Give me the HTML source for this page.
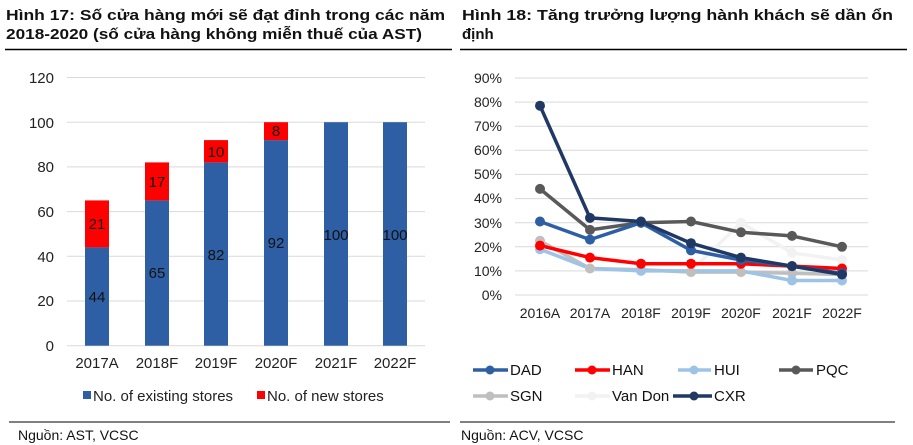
<!DOCTYPE html>
<html><head><meta charset="utf-8"><style>html,body{margin:0;padding:0;background:#fff}svg{display:block}text{font-family:"Liberation Sans",Arial,sans-serif}</style></head>
<body>
<svg width="913" height="445" viewBox="0 0 913 445" xmlns="http://www.w3.org/2000/svg">
<!-- Titles -->
<g font-weight="bold" font-size="15" fill="#111">
<text x="6" y="20" textLength="439" lengthAdjust="spacingAndGlyphs">Hình 17: Số cửa hàng mới sẽ đạt đỉnh trong các năm</text>
<text x="6" y="39" textLength="416" lengthAdjust="spacingAndGlyphs">2018-2020 (số cửa hàng không miễn thuế của AST)</text>
<text x="462" y="20" textLength="431" lengthAdjust="spacingAndGlyphs">Hình 18: Tăng trưởng lượng hành khách sẽ dần ổn</text>
<text x="462" y="39">định</text>
</g>
<line x1="5" y1="49.5" x2="452" y2="49.5" stroke="#000" stroke-width="1.5"/>
<line x1="460" y1="49.5" x2="907" y2="49.5" stroke="#000" stroke-width="1.5"/>

<!-- Left chart -->
<g stroke="#d9d9d9" stroke-width="1">
<line x1="67" x2="425" y1="77.5" y2="77.5"/><line x1="67" x2="425" y1="122.2" y2="122.2"/>
<line x1="67" x2="425" y1="166.9" y2="166.9"/><line x1="67" x2="425" y1="211.6" y2="211.6"/>
<line x1="67" x2="425" y1="256.3" y2="256.3"/><line x1="67" x2="425" y1="301" y2="301"/>
<line x1="67" x2="425" y1="345.7" y2="345.7"/>
</g>
<g font-size="15" fill="#222" text-anchor="end">
<text x="54" y="83">120</text><text x="54" y="128">100</text><text x="54" y="172">80</text>
<text x="54" y="217">60</text><text x="54" y="262">40</text><text x="54" y="306">20</text><text x="54" y="351">0</text>
</g>
<g>
<rect x="85" y="247.4" width="24" height="98.3" fill="#2e5fa4"/><rect x="85" y="200.4" width="24" height="47" fill="#ff0000"/>
<rect x="145" y="200.4" width="24" height="145.3" fill="#2e5fa4"/><rect x="145" y="162.4" width="24" height="38" fill="#ff0000"/>
<rect x="204" y="162.4" width="24" height="183.3" fill="#2e5fa4"/><rect x="204" y="140.1" width="24" height="22.3" fill="#ff0000"/>
<rect x="264" y="140.1" width="24" height="205.6" fill="#2e5fa4"/><rect x="264" y="122.2" width="24" height="17.9" fill="#ff0000"/>
<rect x="324" y="122.2" width="24" height="223.5" fill="#2e5fa4"/>
<rect x="383" y="122.2" width="24" height="223.5" fill="#2e5fa4"/>
</g>
<g font-size="15" fill="#111" text-anchor="middle">
<text x="97" y="302">44</text><text x="97" y="229">21</text>
<text x="157" y="278">65</text><text x="157" y="187">17</text>
<text x="216" y="260">82</text><text x="216" y="157">10</text>
<text x="276" y="248">92</text><text x="276" y="136">8</text>
<text x="336" y="240">100</text><text x="395" y="240">100</text>
</g>
<g font-size="15" fill="#222" text-anchor="middle">
<text x="97" y="368">2017A</text><text x="157" y="368">2018F</text><text x="216" y="368">2019F</text>
<text x="276" y="368">2020F</text><text x="336" y="368">2021F</text><text x="395" y="368">2022F</text>
</g>
<rect x="83" y="391" width="8" height="8" fill="#2e5fa4"/>
<text x="93" y="401" font-size="15" fill="#222">No. of existing stores</text>
<rect x="257" y="391" width="8" height="8" fill="#ff0000"/>
<text x="267" y="401" font-size="15" fill="#222">No. of new stores</text>
<line x1="9" y1="422" x2="450" y2="422" stroke="#000" stroke-width="1"/>
<text x="18" y="440" font-size="14" fill="#111">Nguồn: AST, VCSC</text>

<!-- Right chart -->
<g stroke="#d9d9d9" stroke-width="1">
<line x1="515" x2="868" y1="78" y2="78"/><line x1="515" x2="868" y1="102.1" y2="102.1"/>
<line x1="515" x2="868" y1="126.2" y2="126.2"/><line x1="515" x2="868" y1="150.3" y2="150.3"/>
<line x1="515" x2="868" y1="174.4" y2="174.4"/><line x1="515" x2="868" y1="198.6" y2="198.6"/>
<line x1="515" x2="868" y1="222.7" y2="222.7"/><line x1="515" x2="868" y1="246.8" y2="246.8"/>
<line x1="515" x2="868" y1="270.9" y2="270.9"/><line x1="515" x2="868" y1="295" y2="295"/>
</g>
<g font-size="14" fill="#222" text-anchor="end">
<text x="502" y="83">90%</text><text x="502" y="107">80%</text><text x="502" y="131">70%</text>
<text x="502" y="155">60%</text><text x="502" y="179">50%</text><text x="502" y="203">40%</text>
<text x="502" y="228">30%</text><text x="502" y="252">20%</text><text x="502" y="276">10%</text><text x="502" y="300">0%</text>
</g>
<g font-size="14" fill="#222" text-anchor="middle">
<text x="540" y="318">2016A</text><text x="590" y="318">2017A</text><text x="641" y="318">2018F</text>
<text x="691" y="318">2019F</text><text x="741" y="318">2020F</text><text x="792" y="318">2021F</text><text x="842" y="318">2022F</text>
</g>
<g fill="none" stroke-width="3.5" stroke-linejoin="round">
<polyline stroke="#f2f2f2" points="540,242 590,268.5 641,269.7 691,270.9 741,222.7 792,252.8 842,260"/>
<polyline stroke="#bfbfbf" points="540,240.8 590,268.5 641,269.7 691,272.1 741,272.1 792,273.3 842,274.5"/>
<polyline stroke="#9dc3e6" points="540,249.2 590,268.5 641,270.9 691,270.9 741,270.9 792,280.5 842,280.5"/>
<polyline stroke="#ff0000" points="540,245.6 590,257.6 641,263.7 691,263.7 741,263.7 792,266.1 842,268.5"/>
<polyline stroke="#595959" points="540,188.9 590,229.9 641,222.7 691,221.5 741,232.3 792,235.9 842,246.8"/>
<polyline stroke="#2e5fa4" points="540,221.5 590,239.6 641,222.7 691,250.4 741,260 792,266.1 842,273.3"/>
<polyline stroke="#1f3864" points="540,105.7 590,217.9 641,221.5 691,243.2 741,257.6 792,266.1 842,274.5"/>
</g>
<g stroke="none">
<g fill="#f2f2f2"><circle cx="540" cy="242" r="5"/><circle cx="590" cy="268.5" r="5"/><circle cx="741" cy="222.7" r="5"/><circle cx="792" cy="252.8" r="5"/><circle cx="842" cy="260" r="5"/></g>
<g fill="#bfbfbf"><circle cx="540" cy="240.8" r="5"/><circle cx="590" cy="268.5" r="5"/><circle cx="641" cy="269.7" r="5"/><circle cx="691" cy="272.1" r="5"/><circle cx="741" cy="272.1" r="5"/><circle cx="792" cy="273.3" r="5"/><circle cx="842" cy="274.5" r="5"/></g>
<g fill="#9dc3e6"><circle cx="540" cy="249.2" r="5"/><circle cx="641" cy="270.9" r="5"/><circle cx="792" cy="280.5" r="5"/><circle cx="842" cy="280.5" r="5"/></g>
<g fill="#ff0000"><circle cx="540" cy="245.6" r="5"/><circle cx="590" cy="257.6" r="5"/><circle cx="641" cy="263.7" r="5"/><circle cx="691" cy="263.7" r="5"/><circle cx="741" cy="263.7" r="5"/><circle cx="792" cy="266.1" r="5"/><circle cx="842" cy="268.5" r="5"/></g>
<g fill="#595959"><circle cx="540" cy="188.9" r="5"/><circle cx="590" cy="229.9" r="5"/><circle cx="641" cy="222.7" r="5"/><circle cx="691" cy="221.5" r="5"/><circle cx="741" cy="232.3" r="5"/><circle cx="792" cy="235.9" r="5"/><circle cx="842" cy="246.8" r="5"/></g>
<g fill="#2e5fa4"><circle cx="540" cy="221.5" r="5"/><circle cx="590" cy="239.6" r="5"/><circle cx="641" cy="222.7" r="5"/><circle cx="691" cy="250.4" r="5"/><circle cx="741" cy="260" r="5"/><circle cx="792" cy="266.1" r="5"/><circle cx="842" cy="273.3" r="5"/></g>
<g fill="#1f3864"><circle cx="540" cy="105.7" r="5"/><circle cx="590" cy="217.9" r="5"/><circle cx="641" cy="221.5" r="5"/><circle cx="691" cy="243.2" r="5"/><circle cx="741" cy="257.6" r="5"/><circle cx="792" cy="266.1" r="5"/><circle cx="842" cy="274.5" r="5"/></g>
</g>
<!-- legend -->
<g stroke-width="3.5">
<line x1="473" y1="370" x2="508" y2="370" stroke="#2e5fa4"/><circle cx="490" cy="370" r="4.5" fill="#2e5fa4"/>
<line x1="575" y1="370" x2="610" y2="370" stroke="#ff0000"/><circle cx="592" cy="370" r="4.5" fill="#ff0000"/>
<line x1="678" y1="370" x2="711" y2="370" stroke="#9dc3e6"/><circle cx="694" cy="370" r="4.5" fill="#9dc3e6"/>
<line x1="779" y1="370" x2="813" y2="370" stroke="#595959"/><circle cx="796" cy="370" r="4.5" fill="#595959"/>
<line x1="473" y1="396" x2="508" y2="396" stroke="#bfbfbf"/><circle cx="490" cy="396" r="4.5" fill="#bfbfbf"/>
<line x1="575" y1="396" x2="610" y2="396" stroke="#f2f2f2"/><circle cx="592" cy="396" r="4.5" fill="#f2f2f2"/>
<line x1="673" y1="396" x2="712" y2="396" stroke="#1f3864"/><circle cx="694" cy="396" r="4.5" fill="#1f3864"/>
</g>
<g font-size="15" fill="#111">
<text x="510" y="375">DAD</text><text x="612" y="375">HAN</text><text x="714" y="375">HUI</text><text x="816" y="375">PQC</text>
<text x="510" y="401">SGN</text><text x="612" y="401">Van Don</text><text x="714" y="401">CXR</text>
</g>
<line x1="460" y1="422" x2="895" y2="422" stroke="#000" stroke-width="1"/>
<text x="461" y="440" font-size="14" fill="#111">Nguồn: ACV, VCSC</text>
</svg>
</body></html>
